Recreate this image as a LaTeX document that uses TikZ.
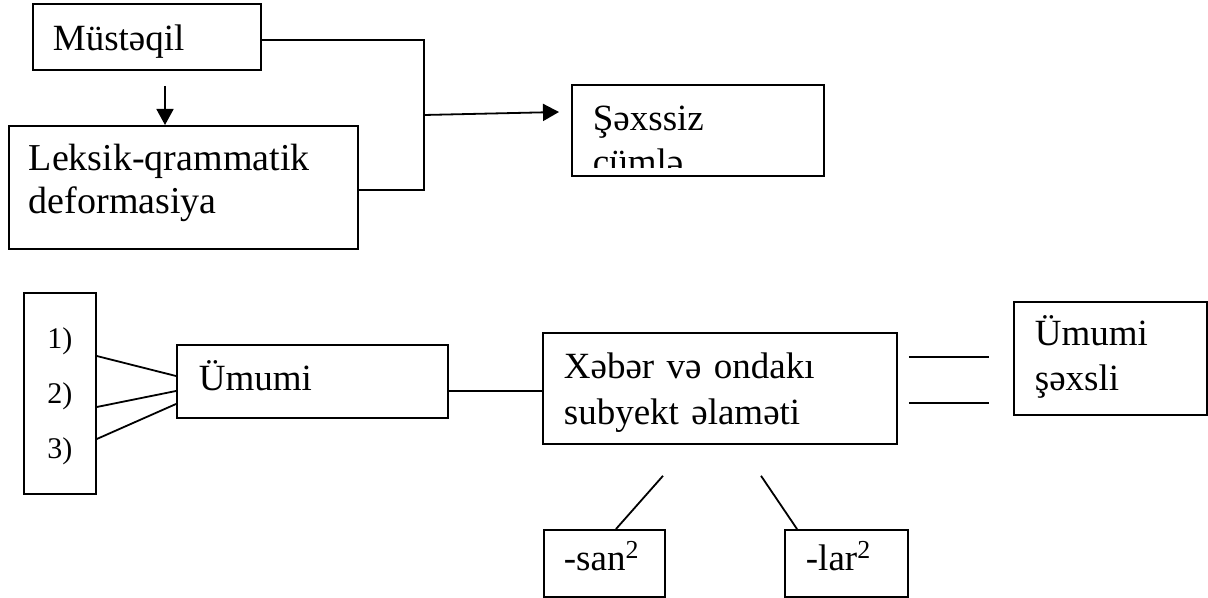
\documentclass[tikz,border=0pt]{standalone}
\usepackage{fontspec}
\setmainfont{Liberation Serif}
\usetikzlibrary{arrows.meta}

\begin{document}
\begin{tikzpicture}[x=0.5pt,y=-0.5pt,line width=0.9pt,
  box/.style={draw, anchor=north west, inner ysep=0pt, align=left,
    font=\fontsize{18.5}{22.5}\selectfont},
  arr/.style={-{Triangle[length=8pt,width=8.5pt]}},
  ]
  \useasboundingbox (0,0) rectangle (1208,598);
  \node[box, text width=94pt, inner xsep=10pt, text height=23.5pt, text depth=9.5pt] (must) at (32,3) {Müstəqil};
  \node[box, text width=154.5pt, inner xsep=10pt, text height=22.5pt, text depth=39pt,
    font=\fontsize{19}{21.5}\selectfont] (lek) at (8,125) {Leksik-qrammatik\\deformasiya};
  \node[box, text width=105pt, inner xsep=10.5pt, text height=23pt, text depth=22.5pt] (sex) at (571,84) {Şəxssiz};
  \begin{scope}
    \clip (sex.north west) rectangle ([yshift=4.5pt]sex.south east);
    \node[anchor=base west, inner sep=0pt, font=\fontsize{18.5}{22.5}\selectfont] (sexb) at ([shift={(10.5pt,-45.5pt)}]sex.north west) {cümlə};
  \end{scope}
  \coordinate (jn) at (424,115);
  \coordinate (ar) at ([shift={(66.5pt,-7.5pt)}]must.south west);
  \draw[arr] (ar) -- (ar |- lek.north);
  \draw ([yshift=-1.5pt]must.east) -| (jn) |- ([yshift=-1.5pt]lek.east);
  \draw[arr] (jn) -- ([shift={(-6pt,-14pt)}]sex.north west);

  \node[box, align=center, text width=36pt, inner xsep=0pt, text height=28pt, text depth=72.5pt,
    font=\fontsize{15}{27.5}\selectfont] (nums) at (23,292) {1)\\2)\\3)};
  \node[box, text width=113.5pt, inner xsep=11pt, text height=23pt, text depth=13.5pt] (umu) at (176,344) {Ümumi};
  \node[box, text width=156pt, inner xsep=10.5pt, text height=23pt, text depth=32.5pt,
    font=\fontsize{18.5}{23}\selectfont] (xeb) at (542,332) {Xəbər və ondakı\\subyekt əlaməti};
  \node[box, text width=75.5pt, inner xsep=10.5pt, text height=22pt, text depth=34.5pt] (ums) at (1013,301) {Ümumi\\şəxsli};
  \node[box, text width=40.5pt, inner xsep=10pt, text height=20.5pt, text depth=13pt] (san) at (543,529) {-san\textsuperscript{2}};
  \node[box, text width=40.5pt, inner xsep=10.5pt, text height=20.5pt, text depth=13pt] (lar) at (784,529) {-lar\textsuperscript{2}};

  \draw ([yshift=-32pt]nums.north east) -- ([yshift=-16pt]umu.north west);
  \draw ([yshift=-57.5pt]nums.north east) -- ([yshift=-23.5pt]umu.north west);
  \draw ([yshift=-73.5pt]nums.north east) -- ([yshift=-30pt]umu.north west);
  \draw ([yshift=-23.5pt]umu.north east) -- ([yshift=-29.5pt]xeb.north west);
  \draw ([shift={(5.5pt,-12.5pt)}]xeb.north east) -- ([shift={(-12pt,-28pt)}]ums.north west);
  \draw ([shift={(5.5pt,-35.5pt)}]xeb.north east) -- ([shift={(-12pt,-51pt)}]ums.north west);
  \draw ([shift={(60.5pt,-15.5pt)}]xeb.south west) -- ([xshift=36.5pt]san.north west);
  \draw ([shift={(109.5pt,-15.5pt)}]xeb.south west) -- ([xshift=6.5pt]lar.north west);
\end{tikzpicture}
\end{document}
